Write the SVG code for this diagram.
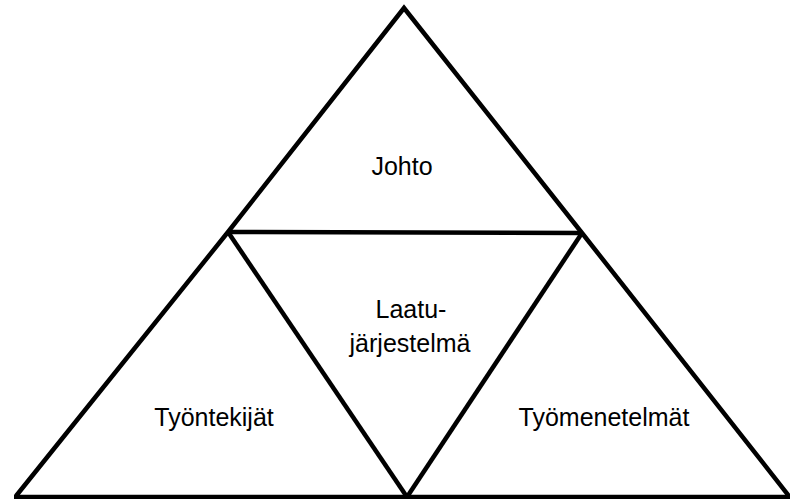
<svg xmlns="http://www.w3.org/2000/svg" width="790" height="499" viewBox="0 0 790 499">
<style>
.ln{stroke:#000;stroke-width:4.5;fill:none;stroke-linejoin:miter;stroke-linecap:butt}
.t{font-family:"Liberation Sans",Arial,sans-serif;font-size:25px;fill:#000;text-anchor:middle}
</style>
<rect width="790" height="499" fill="#fff"/>
<g id="connectors">
<polyline class="ln" points="16,496 228,232 404,8 582,233 789,496"/>
<line class="ln" x1="14" y1="497" x2="790" y2="497"/>
<line class="ln" x1="228" y1="232" x2="582" y2="233"/>
<line class="ln" x1="228" y1="232" x2="407" y2="497"/>
<line class="ln" x1="582" y1="233" x2="407" y2="497"/>
</g>
<g id="johto"><text class="t" x="402" y="175">Johto</text></g>
<g id="laatujarjestelma"><text class="t" x="411" y="318">Laatu-</text><text class="t" x="410" y="352">järjestelmä</text></g>
<g id="tyontekijat"><text class="t" x="214" y="426">Työntekijät</text></g>
<g id="tyomenetelmat"><text class="t" x="604" y="426">Työmenetelmät</text></g>
</svg>
